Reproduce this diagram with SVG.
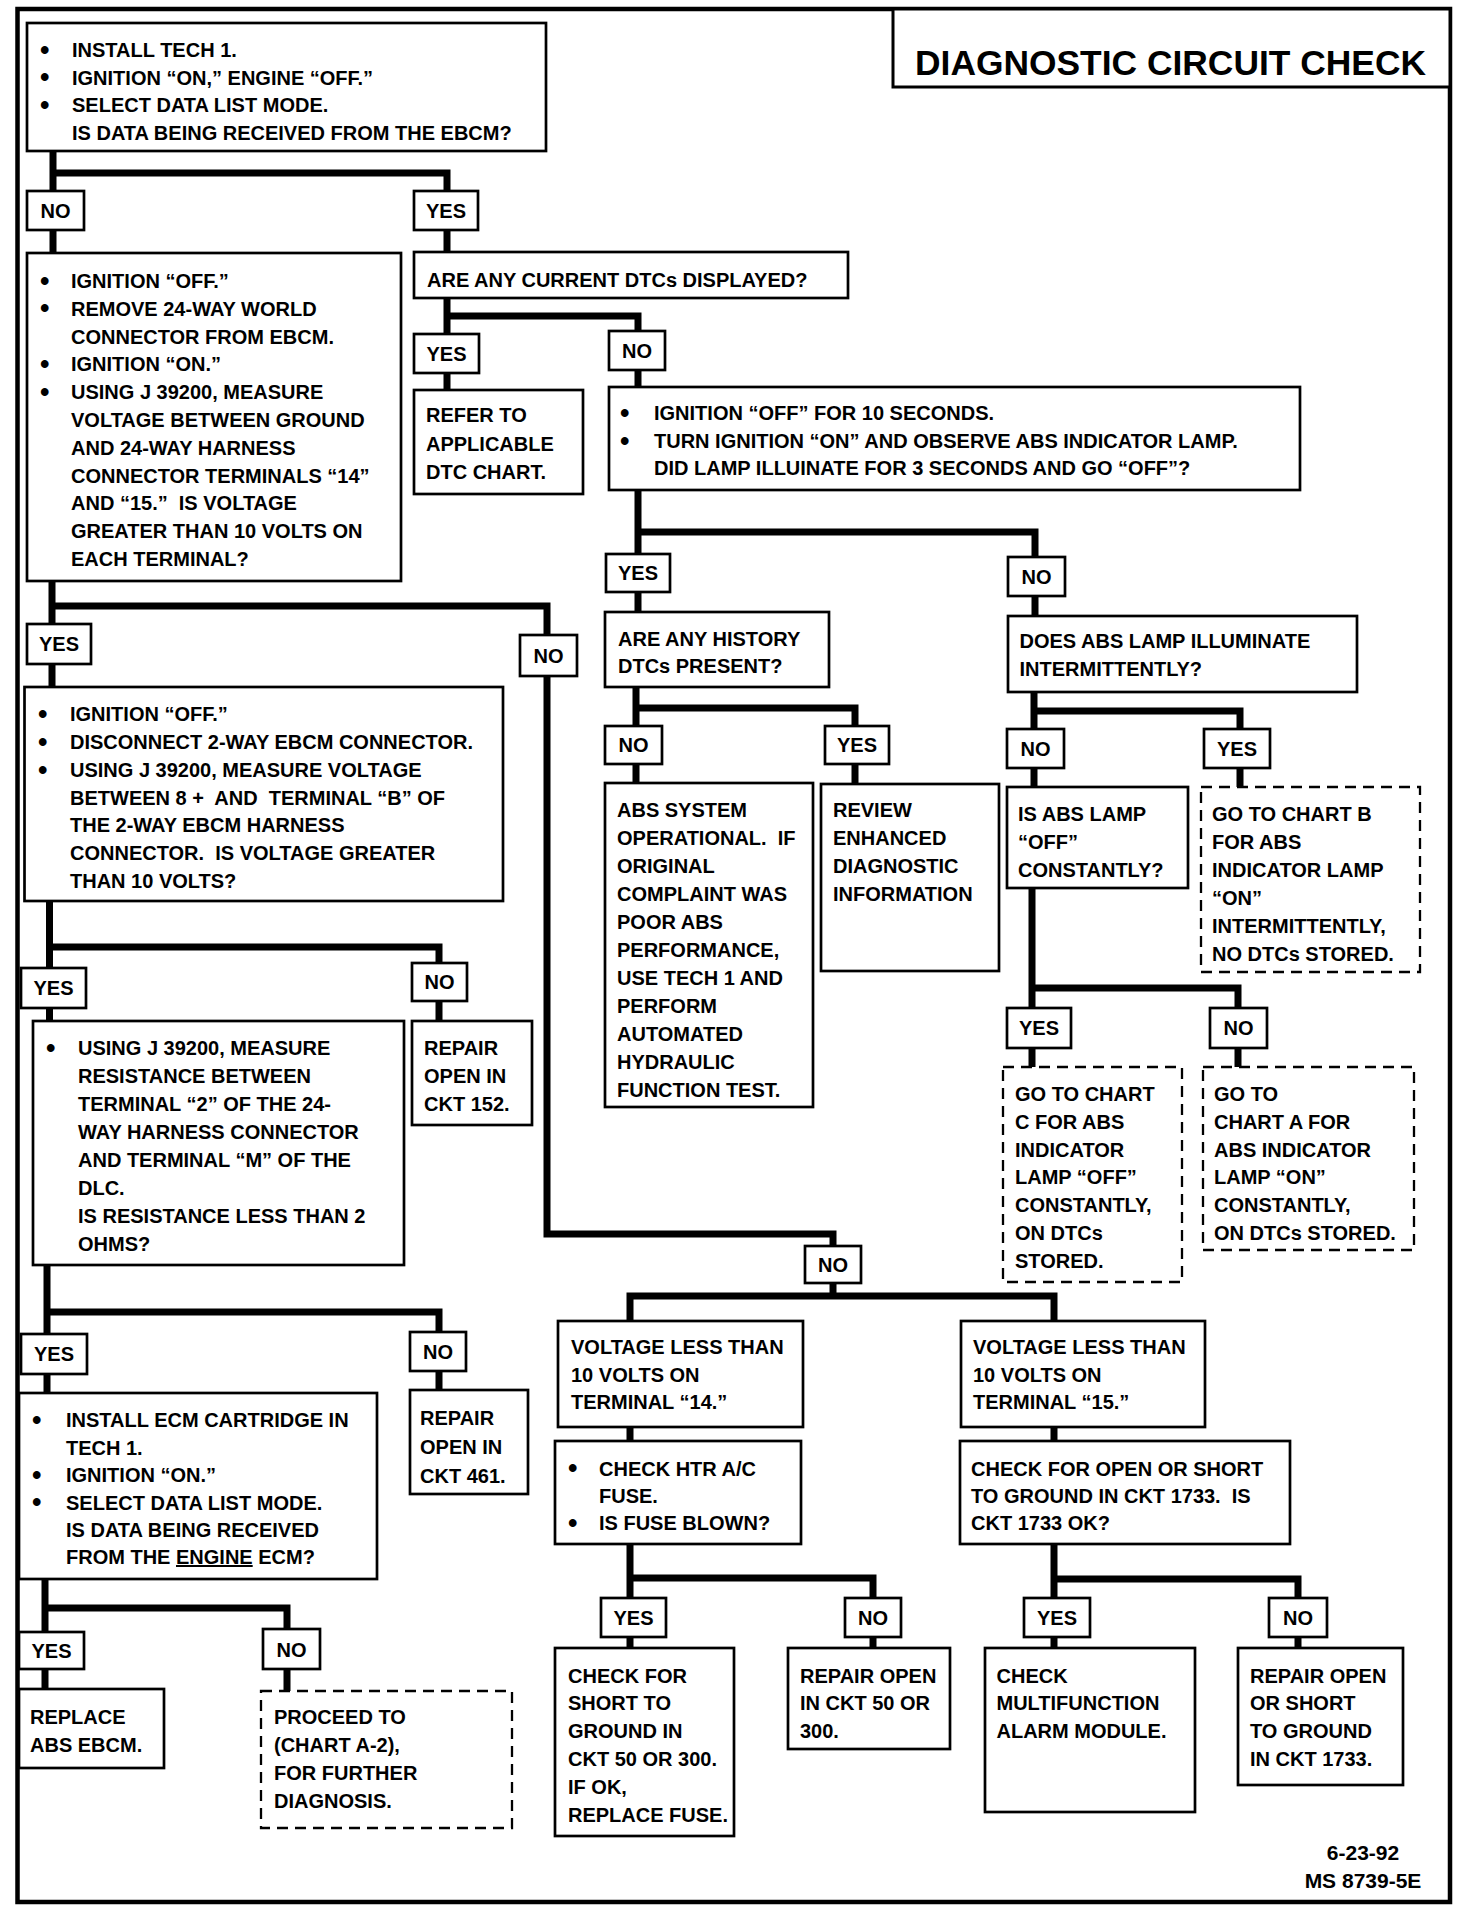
<svg xmlns="http://www.w3.org/2000/svg" width="1472" height="1916" viewBox="0 0 1472 1916">
<style>
.frame{fill:none;stroke:#000;stroke-width:4.5}
.b{fill:#fff;stroke:#000;stroke-width:2.7}
.d{fill:#fff;stroke:#000;stroke-width:2.3;stroke-dasharray:11 7}
.c{fill:none;stroke:#000;stroke-width:7;stroke-linejoin:miter}
text{font-family:"Liberation Sans",Arial,sans-serif;font-weight:bold;font-size:20px;fill:#000}
.l{text-anchor:middle}
.bu{font-size:27px}
.title{font-size:35px}
.u{text-decoration:underline}
</style>
<rect width="1472" height="1916" fill="#fff"/>
<rect class="frame" x="17.5" y="9" width="1432.5" height="1893"/>
<g id="title">
<rect class="b" x="893" y="9" width="557" height="78" style="stroke-width:3"/>
<text class="title" x="915" y="75" textLength="511" lengthAdjust="spacingAndGlyphs">DIAGNOSTIC CIRCUIT CHECK</text>
</g>
<g id="connectors">
<path class="c" d="M447,252 V173 H53 V151 M53,173 V253"/>
<path class="c" d="M447,298 V390 M447,316 H638 V387"/>
<path class="c" d="M638,490 V612 M638,532 H1035 V616"/>
<path class="c" d="M636,687 V783 M636,708 H855 V784"/>
<path class="c" d="M1034,692 V787 M1034,711 H1240 V787"/>
<path class="c" d="M1032,888 V1067 M1032,988 H1238 V1067"/>
<path class="c" d="M52,581 V687 M52,606 H547 V1234 H833 V1246"/>
<path class="c" d="M49.5,901 V1021 M49.5,947 H439 V1021"/>
<path class="c" d="M47,1265 V1393 M47,1312 H439 V1390"/>
<path class="c" d="M45,1579 V1689 M45,1608 H287 V1691"/>
<path class="c" d="M833,1283 V1296 M630,1441 V1296 H1054 V1441"/>
<path class="c" d="M630,1544 V1648 M630,1578 H873 V1648"/>
<path class="c" d="M1054,1544 V1648 M1054,1579 H1298 V1648"/>
</g>
<g id="n1">
<rect class="b" x="27" y="23" width="519" height="128"/>
<text><tspan class="bu" x="40" y="58.5">•</tspan><tspan x="72" y="57">INSTALL TECH 1.</tspan><tspan class="bu" x="40" y="86.2">•</tspan><tspan x="72" y="84.7">IGNITION “ON,” ENGINE “OFF.”</tspan><tspan class="bu" x="40" y="113.9">•</tspan><tspan x="72" y="112.4">SELECT DATA LIST MODE.</tspan><tspan x="72" y="140">IS DATA BEING RECEIVED FROM THE EBCM?</tspan></text>
</g>
<g id="l1"><rect class="b" x="27" y="191" width="57" height="39"/><text class="l" x="55.5" y="218">NO</text></g>
<g id="l2"><rect class="b" x="414" y="191" width="64" height="39"/><text class="l" x="446" y="218">YES</text></g>
<g id="n2">
<rect class="b" x="27" y="253" width="374" height="328"/>
<text xml:space="preserve"><tspan class="bu" x="40" y="289.5">•</tspan><tspan x="71" y="288">IGNITION “OFF.”</tspan><tspan class="bu" x="40" y="317.3">•</tspan><tspan x="71" y="315.8">REMOVE 24-WAY WORLD</tspan><tspan x="71" y="343.6">CONNECTOR FROM EBCM.</tspan><tspan class="bu" x="40" y="372.9">•</tspan><tspan x="71" y="371.4">IGNITION “ON.”</tspan><tspan class="bu" x="40" y="400.7">•</tspan><tspan x="71" y="399.2">USING J 39200, MEASURE</tspan><tspan x="71" y="427">VOLTAGE BETWEEN GROUND</tspan><tspan x="71" y="454.8">AND 24-WAY HARNESS</tspan><tspan x="71" y="482.6">CONNECTOR TERMINALS “14”</tspan><tspan x="71" y="510.4">AND “15.”  IS VOLTAGE</tspan><tspan x="71" y="538.2">GREATER THAN 10 VOLTS ON</tspan><tspan x="71" y="566">EACH TERMINAL?</tspan></text>
</g>
<g id="n3">
<rect class="b" x="414" y="252" width="434" height="46"/>
<text x="427" y="287">ARE ANY CURRENT DTCs DISPLAYED?</text>
</g>
<g id="l3"><rect class="b" x="414" y="334" width="65" height="39"/><text class="l" x="446.5" y="361">YES</text></g>
<g id="l4"><rect class="b" x="609" y="331" width="56" height="39"/><text class="l" x="637" y="358">NO</text></g>
<g id="n4">
<rect class="b" x="414" y="390" width="169" height="104"/>
<text><tspan x="426" y="422">REFER TO</tspan><tspan x="426" y="450.5">APPLICABLE</tspan><tspan x="426" y="479">DTC CHART.</tspan></text>
</g>
<g id="n5">
<rect class="b" x="609" y="387" width="691" height="103"/>
<text><tspan class="bu" x="620" y="421.5">•</tspan><tspan x="654" y="420">IGNITION “OFF” FOR 10 SECONDS.</tspan><tspan class="bu" x="620" y="449.5">•</tspan><tspan x="654" y="448">TURN IGNITION “ON” AND OBSERVE ABS INDICATOR LAMP.</tspan><tspan x="654" y="475">DID LAMP ILLUINATE FOR 3 SECONDS AND GO “OFF”?</tspan></text>
</g>
<g id="l5"><rect class="b" x="606" y="554" width="64" height="38"/><text class="l" x="638" y="580">YES</text></g>
<g id="l6"><rect class="b" x="1008" y="557" width="57" height="39"/><text class="l" x="1036.5" y="584">NO</text></g>
<g id="n6">
<rect class="b" x="605" y="612" width="224" height="75"/>
<text><tspan x="618" y="645.5">ARE ANY HISTORY</tspan><tspan x="618" y="673">DTCs PRESENT?</tspan></text>
</g>
<g id="l7"><rect class="b" x="605" y="726" width="57" height="38"/><text class="l" x="633.5" y="752">NO</text></g>
<g id="l8"><rect class="b" x="825" y="726" width="64" height="38"/><text class="l" x="857" y="752">YES</text></g>
<g id="n7">
<rect class="b" x="605" y="783" width="208" height="324"/>
<text xml:space="preserve"><tspan x="617" y="817">ABS SYSTEM</tspan><tspan x="617" y="845">OPERATIONAL.  IF</tspan><tspan x="617" y="873">ORIGINAL</tspan><tspan x="617" y="901">COMPLAINT WAS</tspan><tspan x="617" y="929">POOR ABS</tspan><tspan x="617" y="957">PERFORMANCE,</tspan><tspan x="617" y="985">USE TECH 1 AND</tspan><tspan x="617" y="1013">PERFORM</tspan><tspan x="617" y="1041">AUTOMATED</tspan><tspan x="617" y="1069">HYDRAULIC</tspan><tspan x="617" y="1097">FUNCTION TEST.</tspan></text>
</g>
<g id="n8">
<rect class="b" x="821" y="784" width="178" height="187"/>
<text><tspan x="833" y="817">REVIEW</tspan><tspan x="833" y="845">ENHANCED</tspan><tspan x="833" y="873">DIAGNOSTIC</tspan><tspan x="833" y="901">INFORMATION</tspan></text>
</g>
<g id="n9">
<rect class="b" x="1008" y="616" width="349" height="76"/>
<text><tspan x="1019.5" y="648">DOES ABS LAMP ILLUMINATE</tspan><tspan x="1019.5" y="676">INTERMITTENTLY?</tspan></text>
</g>
<g id="l9"><rect class="b" x="1007" y="729" width="57" height="39"/><text class="l" x="1035.5" y="756">NO</text></g>
<g id="l10"><rect class="b" x="1204" y="729" width="66" height="39"/><text class="l" x="1237" y="756">YES</text></g>
<g id="n10">
<rect class="b" x="1007" y="787" width="181" height="101"/>
<text><tspan x="1018" y="821">IS ABS LAMP</tspan><tspan x="1018" y="849">“OFF”</tspan><tspan x="1018" y="877">CONSTANTLY?</tspan></text>
</g>
<g id="n11">
<rect class="d" x="1201" y="787" width="219" height="185"/>
<text><tspan x="1212" y="821">GO TO CHART B</tspan><tspan x="1212" y="849">FOR ABS</tspan><tspan x="1212" y="877">INDICATOR LAMP</tspan><tspan x="1212" y="905">“ON”</tspan><tspan x="1212" y="933">INTERMITTENTLY,</tspan><tspan x="1212" y="961">NO DTCs STORED.</tspan></text>
</g>
<g id="l11"><rect class="b" x="1007" y="1008" width="64" height="40"/><text class="l" x="1039" y="1035">YES</text></g>
<g id="l12"><rect class="b" x="1210" y="1008" width="57" height="40"/><text class="l" x="1238.5" y="1035">NO</text></g>
<g id="n12">
<rect class="d" x="1003" y="1067" width="179" height="215"/>
<text><tspan x="1015" y="1101">GO TO CHART</tspan><tspan x="1015" y="1129">C FOR ABS</tspan><tspan x="1015" y="1157">INDICATOR</tspan><tspan x="1015" y="1184">LAMP “OFF”</tspan><tspan x="1015" y="1212">CONSTANTLY,</tspan><tspan x="1015" y="1240">ON DTCs</tspan><tspan x="1015" y="1268">STORED.</tspan></text>
</g>
<g id="n13">
<rect class="d" x="1203" y="1067" width="211" height="183"/>
<text><tspan x="1214" y="1101">GO TO</tspan><tspan x="1214" y="1129">CHART A FOR</tspan><tspan x="1214" y="1157">ABS INDICATOR</tspan><tspan x="1214" y="1184">LAMP “ON”</tspan><tspan x="1214" y="1212">CONSTANTLY,</tspan><tspan x="1214" y="1240">ON DTCs STORED.</tspan></text>
</g>
<g id="l13"><rect class="b" x="27" y="624" width="64" height="40"/><text class="l" x="59" y="651">YES</text></g>
<g id="l14"><rect class="b" x="520" y="635" width="57" height="41"/><text class="l" x="548.5" y="663">NO</text></g>
<g id="n14">
<rect class="b" x="24.5" y="687" width="478.5" height="214"/>
<text xml:space="preserve"><tspan class="bu" x="38" y="722.5">•</tspan><tspan x="70" y="721">IGNITION “OFF.”</tspan><tspan class="bu" x="38" y="750.5">•</tspan><tspan x="70" y="749">DISCONNECT 2-WAY EBCM CONNECTOR.</tspan><tspan class="bu" x="38" y="778.5">•</tspan><tspan x="70" y="777">USING J 39200, MEASURE VOLTAGE</tspan><tspan x="70" y="805">BETWEEN 8 +  AND  TERMINAL “B” OF</tspan><tspan x="70" y="832">THE 2-WAY EBCM HARNESS</tspan><tspan x="70" y="860">CONNECTOR.  IS VOLTAGE GREATER</tspan><tspan x="70" y="888">THAN 10 VOLTS?</tspan></text>
</g>
<g id="l15"><rect class="b" x="21" y="968" width="65" height="40"/><text class="l" x="53.5" y="995">YES</text></g>
<g id="l16"><rect class="b" x="412" y="963" width="55" height="38"/><text class="l" x="439.5" y="989">NO</text></g>
<g id="n15">
<rect class="b" x="33" y="1021" width="371" height="244"/>
<text><tspan class="bu" x="46" y="1056.5">•</tspan><tspan x="78" y="1055">USING J 39200, MEASURE</tspan><tspan x="78" y="1083">RESISTANCE BETWEEN</tspan><tspan x="78" y="1111">TERMINAL “2” OF THE 24-</tspan><tspan x="78" y="1139">WAY HARNESS CONNECTOR</tspan><tspan x="78" y="1167">AND TERMINAL “M” OF THE</tspan><tspan x="78" y="1195">DLC.</tspan><tspan x="78" y="1223">IS RESISTANCE LESS THAN 2</tspan><tspan x="78" y="1251">OHMS?</tspan></text>
</g>
<g id="n16">
<rect class="b" x="412" y="1021" width="120" height="104"/>
<text><tspan x="424" y="1055">REPAIR</tspan><tspan x="424" y="1083">OPEN IN</tspan><tspan x="424" y="1111">CKT 152.</tspan></text>
</g>
<g id="l17"><rect class="b" x="21" y="1334" width="66" height="40"/><text class="l" x="54" y="1361">YES</text></g>
<g id="l18"><rect class="b" x="410" y="1332" width="56" height="39"/><text class="l" x="438" y="1359">NO</text></g>
<g id="n17">
<rect class="b" x="19" y="1393" width="358" height="186"/>
<text><tspan class="bu" x="32" y="1428.5">•</tspan><tspan x="66" y="1427">INSTALL ECM CARTRIDGE IN</tspan><tspan x="66" y="1454.5">TECH 1.</tspan><tspan class="bu" x="32" y="1483.5">•</tspan><tspan x="66" y="1482">IGNITION “ON.”</tspan><tspan class="bu" x="32" y="1511">•</tspan><tspan x="66" y="1509.5">SELECT DATA LIST MODE.</tspan><tspan x="66" y="1537">IS DATA BEING RECEIVED</tspan><tspan x="66" y="1564">FROM THE <tspan class="u">ENGINE</tspan> ECM?</tspan></text>
</g>
<g id="n18">
<rect class="b" x="410" y="1390" width="118" height="104"/>
<text><tspan x="420" y="1425">REPAIR</tspan><tspan x="420" y="1454">OPEN IN</tspan><tspan x="420" y="1483">CKT 461.</tspan></text>
</g>
<g id="l19"><rect class="b" x="19" y="1632" width="65" height="37"/><text class="l" x="51.5" y="1658">YES</text></g>
<g id="l20"><rect class="b" x="263" y="1629" width="57" height="40"/><text class="l" x="291.5" y="1657">NO</text></g>
<g id="n19">
<rect class="b" x="19" y="1689" width="145" height="79"/>
<text><tspan x="30" y="1724">REPLACE</tspan><tspan x="30" y="1752">ABS EBCM.</tspan></text>
</g>
<g id="n20">
<rect class="d" x="261" y="1691" width="251" height="137"/>
<text><tspan x="274" y="1724">PROCEED TO</tspan><tspan x="274" y="1752">(CHART A-2),</tspan><tspan x="274" y="1780">FOR FURTHER</tspan><tspan x="274" y="1808">DIAGNOSIS.</tspan></text>
</g>
<g id="l21"><rect class="b" x="805" y="1246" width="56" height="37"/><text class="l" x="833" y="1272">NO</text></g>
<g id="n21">
<rect class="b" x="558" y="1321" width="245" height="106"/>
<text><tspan x="571" y="1354">VOLTAGE LESS THAN</tspan><tspan x="571" y="1381.5">10 VOLTS ON</tspan><tspan x="571" y="1409">TERMINAL “14.”</tspan></text>
</g>
<g id="n22">
<rect class="b" x="961" y="1321" width="244" height="106"/>
<text><tspan x="973" y="1354">VOLTAGE LESS THAN</tspan><tspan x="973" y="1381.5">10 VOLTS ON</tspan><tspan x="973" y="1409">TERMINAL “15.”</tspan></text>
</g>
<g id="n23">
<rect class="b" x="555" y="1441" width="246" height="103"/>
<text><tspan class="bu" x="568" y="1477">•</tspan><tspan x="599" y="1475.5">CHECK HTR A/C</tspan><tspan x="599" y="1503">FUSE.</tspan><tspan class="bu" x="568" y="1531.5">•</tspan><tspan x="599" y="1530">IS FUSE BLOWN?</tspan></text>
</g>
<g id="n24">
<rect class="b" x="960" y="1441" width="330" height="103"/>
<text xml:space="preserve"><tspan x="971" y="1475.5">CHECK FOR OPEN OR SHORT</tspan><tspan x="971" y="1503">TO GROUND IN CKT 1733.  IS</tspan><tspan x="971" y="1530">CKT 1733 OK?</tspan></text>
</g>
<g id="l22"><rect class="b" x="601" y="1598" width="65" height="39"/><text class="l" x="633.5" y="1625">YES</text></g>
<g id="l23"><rect class="b" x="845" y="1598" width="56" height="39"/><text class="l" x="873" y="1625">NO</text></g>
<g id="l24"><rect class="b" x="1024" y="1598" width="66" height="39"/><text class="l" x="1057" y="1625">YES</text></g>
<g id="l25"><rect class="b" x="1269" y="1598" width="58" height="39"/><text class="l" x="1298" y="1625">NO</text></g>
<g id="n25">
<rect class="b" x="555" y="1648" width="179" height="188"/>
<text><tspan x="568" y="1682.5">CHECK FOR</tspan><tspan x="568" y="1710">SHORT TO</tspan><tspan x="568" y="1738">GROUND IN</tspan><tspan x="568" y="1766">CKT 50 OR 300.</tspan><tspan x="568" y="1794">IF OK,</tspan><tspan x="568" y="1822">REPLACE FUSE.</tspan></text>
</g>
<g id="n26">
<rect class="b" x="788" y="1648" width="162" height="101"/>
<text><tspan x="800" y="1682.5">REPAIR OPEN</tspan><tspan x="800" y="1710">IN CKT 50 OR</tspan><tspan x="800" y="1738">300.</tspan></text>
</g>
<g id="n27">
<rect class="b" x="985" y="1648" width="210" height="164"/>
<text><tspan x="996.5" y="1682.5">CHECK</tspan><tspan x="996.5" y="1710">MULTIFUNCTION</tspan><tspan x="996.5" y="1738">ALARM MODULE.</tspan></text>
</g>
<g id="n28">
<rect class="b" x="1238" y="1648" width="165" height="137"/>
<text><tspan x="1250" y="1682.5">REPAIR OPEN</tspan><tspan x="1250" y="1710">OR SHORT</tspan><tspan x="1250" y="1738">TO GROUND</tspan><tspan x="1250" y="1766">IN CKT 1733.</tspan></text>
</g>
<g id="footer">
<text class="l" x="1363" y="1860" style="font-size:21px">6-23-92</text>
<text class="l" x="1363" y="1888" style="font-size:21px">MS 8739-5E</text>
</g>
</svg>
